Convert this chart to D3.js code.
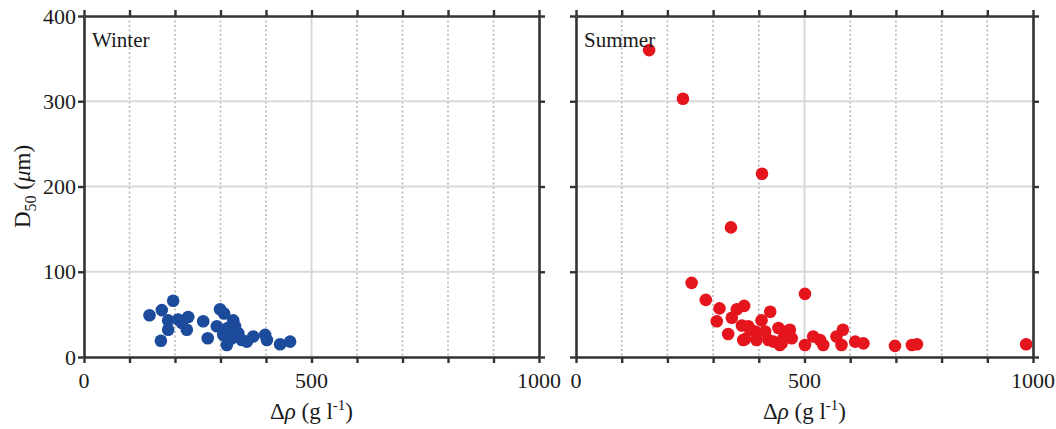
<!DOCTYPE html>
<html lang="en">
<head>
    <meta charset="UTF-8">
    <title>D50 vs density difference</title>
    <script src="https://d3js.org/d3.v7.min.js"></script>
    <style>
        body { margin: 0; background: #fff; }
        text { font-family: "Liberation Serif", "DejaVu Serif", serif; fill: #1a1a1a; }
        .tick-label { font-size: 22px; }
        .axis-label { font-size: 23px; }
        .panel-label { font-size: 21px; }
    </style>
</head>
<body>
    <svg width="1056" height="429"></svg>

    <script>
        // Winter samples: density difference (g/l) and D50 (um)
        const winterRho = [144, 171, 196, 169, 185, 185, 207, 215, 226, 229,
                           262, 272, 299, 308, 292, 328, 332, 306, 314, 325,
                           339, 347, 358, 372, 398, 402, 431, 453, 316];
        const winterD50 = [49, 55, 66, 19, 43, 32, 44, 40, 32, 47,
                           42, 22, 56, 51, 36, 43, 36, 26, 14, 22,
                           28, 20, 18, 24, 26, 20, 15, 18, 34];

        // Summer samples
        const summerRho = [160, 234, 407, 339, 253, 284, 314, 308, 333, 341,
                           352, 368, 363, 370, 377, 392, 395, 406, 414, 425,
                           421, 432, 443, 446, 461, 454, 468, 472, 450, 501,
                           501, 519, 534, 541, 570, 584, 581, 611, 629, 698,
                           735, 746, 985, 366, 381];
        const summerD50 = [360, 303, 215, 152, 87, 67, 57, 42, 27, 46,
                           56, 60, 37, 21, 36, 30, 20, 43, 30, 53,
                           20, 18, 34, 14, 30, 22, 32, 22, 16, 74,
                           14, 24, 20, 14, 24, 32, 14, 18, 16, 13,
                           14, 15, 15, 20, 32];

        const xTicks = [0, 100, 200, 300, 400, 500, 600, 700, 800, 900, 1000];
        const xLabels = [0, 500, 1000];
        const yTicks = [0, 100, 200, 300, 400];

        const panels = [
            { name: "Winter", rho: winterRho, d50: winterD50, color: "#1c4b9c", left: 84, right: 539, yLabels: true },
            { name: "Summer", rho: summerRho, d50: summerD50, color: "#e5151e", left: 576, right: 1033, yLabels: false }
        ];

        const plotTop = 16, plotBottom = 357;
        const svg = d3.select("svg");

        const y = d3.scaleLinear().domain([0, 400]).range([plotBottom, plotTop]);

        panels.forEach(p => {
            const x = d3.scaleLinear().domain([0, 1000]).range([p.left, p.right]);
            const g = svg.append("g");

            // vertical grid: dotted, solid at 500
            g.selectAll(".vgrid")
                .data(xTicks.filter(t => t > 0 && t < 1000))
              .enter().append("line")
                .attr("x1", d => x(d)).attr("x2", d => x(d))
                .attr("y1", plotTop).attr("y2", plotBottom)
                .attr("stroke", d => d === 500 ? "#d9d9d9" : "#b8b8b8")
                .attr("stroke-width", d => d === 500 ? 2 : 1.6)
                .attr("stroke-dasharray", d => d === 500 ? null : "2,2.5");

            // horizontal grid
            g.selectAll(".hgrid")
                .data(yTicks.filter(t => t > 0 && t < 400))
              .enter().append("line")
                .attr("x1", p.left).attr("x2", p.right)
                .attr("y1", d => y(d)).attr("y2", d => y(d))
                .attr("stroke", "#d9d9d9")
                .attr("stroke-width", 2);

            // points
            g.selectAll(".dot")
                .data(p.rho.map((r, i) => ({ r: r, d: p.d50[i] })))
              .enter().append("circle")
                .attr("cx", d => x(d.r))
                .attr("cy", d => y(d.d))
                .attr("r", 6.3)
                .attr("fill", p.color);

            // box axes with outward ticks on every side
            const axes = [
                { ax: d3.axisBottom(x).tickValues(xTicks), tr: `translate(0,${plotBottom})` },
                { ax: d3.axisTop(x).tickValues(xTicks), tr: `translate(0,${plotTop})` },
                { ax: d3.axisLeft(y).tickValues(yTicks), tr: `translate(${p.left},0)` },
                { ax: d3.axisRight(y).tickValues(yTicks), tr: `translate(${p.right},0)` }
            ];
            axes.forEach(a => {
                const ag = g.append("g")
                    .attr("transform", a.tr)
                    .call(a.ax.tickSize(6).tickSizeOuter(0).tickFormat(""));
                ag.select(".domain").attr("stroke", "#333").attr("stroke-width", 2.6);
                ag.selectAll(".tick line").attr("stroke", "#333").attr("stroke-width", 2.4);
            });

            // x tick labels
            g.selectAll(".xl")
                .data(xLabels)
              .enter().append("text")
                .attr("class", "tick-label")
                .attr("x", d => x(d))
                .attr("y", 388)
                .attr("text-anchor", "middle")
                .text(d => d);

            if (p.yLabels) {
                g.selectAll(".yl")
                    .data(yTicks)
                  .enter().append("text")
                    .attr("class", "tick-label")
                    .attr("x", p.left - 8)
                    .attr("y", d => y(d) + 7.5)
                    .attr("text-anchor", "end")
                    .text(d => d);
            }

            // panel name
            g.append("text")
                .attr("class", "panel-label")
                .attr("x", p.left + 8)
                .attr("y", 47)
                .text(p.name);

            // x axis label
            const xl = g.append("text")
                .attr("class", "axis-label")
                .attr("x", (p.left + p.right) / 2)
                .attr("y", 419)
                .attr("text-anchor", "middle");
            xl.append("tspan").text("\u0394");
            xl.append("tspan").attr("font-style", "italic").text("\u03C1");
            xl.append("tspan").text(" (g l");
            xl.append("tspan").attr("dy", -9).attr("font-size", 15).text("-1");
            xl.append("tspan").attr("dy", 9).text(")");
        });

        // y axis label
        const yl = svg.append("text")
            .attr("class", "axis-label")
            .attr("transform", `translate(30,${(plotTop + plotBottom) / 2}) rotate(-90)`)
            .attr("text-anchor", "middle");
        yl.append("tspan").text("D");
        yl.append("tspan").attr("dy", 6).attr("font-size", 16).text("50");
        yl.append("tspan").attr("dy", -6).text(" (");
        yl.append("tspan").attr("font-style", "italic").text("\u03BC");
        yl.append("tspan").text("m)");
    </script>
</body>
</html>
